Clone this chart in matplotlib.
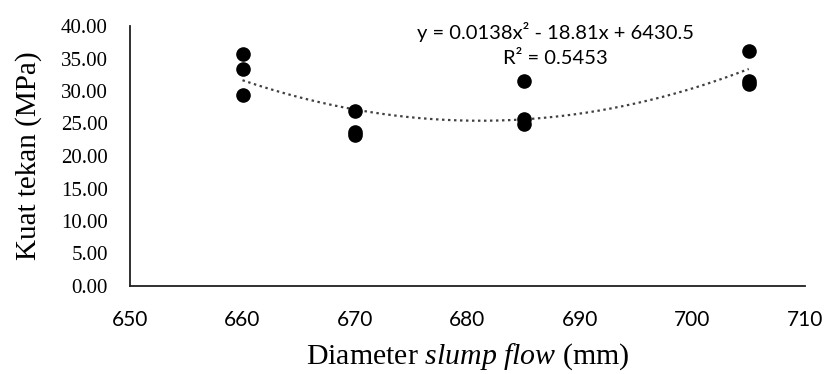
import matplotlib
matplotlib.use("Agg")
import matplotlib.pyplot as plt
import numpy as np

plt.rcParams['mathtext.fontset'] = 'custom'
plt.rcParams['mathtext.rm'] = 'Liberation Serif'
plt.rcParams['mathtext.it'] = 'Liberation Serif:italic'

# data
diameter = [660, 660, 660, 670, 670, 670, 685, 685, 685, 705, 705, 705]
kuat_tekan = [35.7, 33.4, 29.4, 27.0, 23.7, 23.2, 31.5, 25.7, 25.0, 36.2, 31.6, 31.1]
x_ticks = [650, 660, 670, 680, 690, 700, 710]
y_ticks = [0, 5, 10, 15, 20, 25, 30, 35, 40]
eq_text = "y = 0.0138x² - 18.81x + 6430.5"
r2_text = "R² = 0.5453"

fig = plt.figure(figsize=(8.25, 3.74), dpi=100)
ax = fig.add_axes([130/825, 1-286/374, 675/825, 260/374])

ax.scatter(diameter, kuat_tekan, s=90, color='black', zorder=3)

# polynomial trendline (order 2)
coef = np.polyfit(diameter, kuat_tekan, 2)
xs = np.linspace(min(diameter), max(diameter), 200)
ax.plot(xs, np.polyval(coef, xs), color='#404040', lw=1.6,
        linestyle=(0, (1.1, 1.6)), zorder=2)

ax.set_xlim(650, 710)
ax.set_ylim(0, 40)
ax.set_xticks(x_ticks)
ax.set_yticks(y_ticks)
ax.set_xticklabels([str(v) for v in x_ticks], family='Lato', fontsize=15)
ax.set_yticklabels(['%.2f' % v for v in y_ticks], family='Liberation Serif', fontsize=15)
ax.tick_params(length=0)
ax.tick_params(axis='y', pad=16)
ax.tick_params(axis='x', pad=17)

for s in ['top', 'right']:
    ax.spines[s].set_visible(False)
for s in ['left', 'bottom']:
    ax.spines[s].set_linewidth(1.3)
    ax.spines[s].set_color('#202020')

ax.set_ylabel('Kuat tekan (MPa)', family='Liberation Serif', fontsize=21)
ax.set_xlabel('Diameter $\\mathit{slump\\ flow}$ (mm)', family='Liberation Serif', fontsize=21.5)
ax.yaxis.set_label_coords(-88/675, 0.5)
ax.xaxis.set_label_coords(0.5, -55/260)

ax.text(0.63, 1.0 - 6/260, eq_text, transform=ax.transAxes, ha='center', va='center',
        fontsize=14.5, family='Lato')
ax.text(0.63, 1.0 - 33/260, r2_text, transform=ax.transAxes, ha='center', va='center',
        fontsize=14.5, family='Lato')

plt.savefig("out.png", dpi=100)
